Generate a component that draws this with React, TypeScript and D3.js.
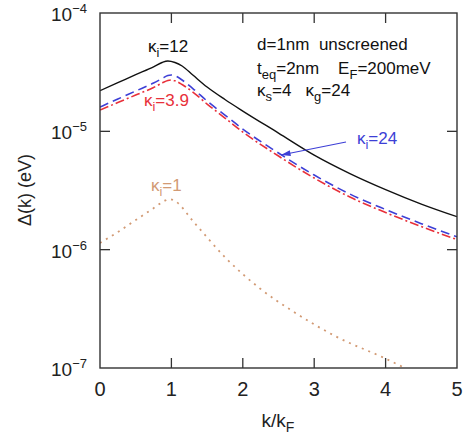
import React, { useRef, useEffect } from 'react';
import * as d3 from 'd3';

// k/kF sample points
const kBlack = [0, 0.25, 0.5, 0.75, 0.87, 0.95, 1.05, 1.15, 1.3, 1.5, 1.75, 2.0, 2.5, 3.0, 3.5, 4.0, 4.5, 5.0];
const dBlack = [2.204e-5, 2.575e-5, 3.015e-5, 3.509e-5, 3.816e-5, 3.929e-5, 3.816e-5, 3.565e-5, 2.99e-5, 2.368e-5, 1.857e-5, 1.484e-5, 9.67e-6, 6.3e-6, 4.4e-6, 3.22e-6, 2.43e-6, 1.9e-6];

const kBlue = [0, 0.25, 0.5, 0.75, 0.87, 0.95, 1.0, 1.05, 1.15, 1.3, 1.5, 1.75, 2.0, 2.5, 3.0, 3.5, 4.0, 4.5, 5.0];
const dBlue = [1.605e-5, 1.875e-5, 2.191e-5, 2.56e-5, 2.794e-5, 2.962e-5, 2.991e-5, 2.944e-5, 2.714e-5, 2.3e-5, 1.803e-5, 1.373e-5, 1.046e-5, 6.556e-6, 4.271e-6, 2.951e-6, 2.183e-6, 1.659e-6, 1.283e-6];

const kRed = [0, 0.25, 0.5, 0.75, 0.87, 0.95, 1.0, 1.05, 1.15, 1.3, 1.5, 1.75, 2.0, 2.5, 3.0, 3.5, 4.0, 4.5, 5.0];
const dRed = [1.514e-5, 1.751e-5, 2.026e-5, 2.345e-5, 2.56e-5, 2.688e-5, 2.714e-5, 2.673e-5, 2.486e-5, 2.149e-5, 1.701e-5, 1.296e-5, 9.865e-6, 6.183e-6, 4.028e-6, 2.784e-6, 2.059e-6, 1.568e-6, 1.217e-6];

const kBrown = [0, 0.25, 0.5, 0.75, 0.9, 0.97, 1.05, 1.31, 1.77, 2.24, 2.71, 3.31, 4.0, 4.24, 4.5];
const dBrown = [1.14e-6, 1.41e-6, 1.78e-6, 2.24e-6, 2.58e-6, 2.68e-6, 2.58e-6, 1.72e-6, 8.4e-7, 4.7e-7, 2.99e-7, 1.84e-7, 1.2e-7, 1.02e-7, 8.5e-8];

const xTicks = [0, 1, 2, 3, 4, 5];
const yTicks = [1e-7, 1e-6, 1e-5, 1e-4];
const yExp = ['\u22127', '\u22126', '\u22125', '\u22124'];

const App = () => {
  const ref = useRef<SVGSVGElement>(null);

  useEffect(() => {
    const svg = d3.select(ref.current);
    svg.selectAll('*').remove();

    const left = 100, right = 457, top = 13, bottom = 368;
    const x = d3.scaleLinear().domain([0, 5]).range([left, right]);
    const y = d3.scaleLog().domain([1e-7, 1e-4]).range([bottom, top]);
    const font = 'Liberation Sans, Arial, sans-serif';

    svg.append('defs').append('clipPath').attr('id', 'plotclip')
      .append('rect').attr('x', left).attr('y', top).attr('width', right - left).attr('height', bottom - top);

    const line = d3.line<[number, number]>()
      .x((d) => x(d[0]))
      .y((d) => y(d[1]))
      .curve(d3.curveMonotoneX);

    const series = [
      { k: kBrown, v: dBrown, color: '#d29a74', dash: '2,5', w: 1.8 },
      { k: kRed, v: dRed, color: '#e8303a', dash: '9,3,2,3', w: 1.6 },
      { k: kBlue, v: dBlue, color: '#3d3fd6', dash: '9,5', w: 1.6 },
      { k: kBlack, v: dBlack, color: '#111111', dash: null, w: 1.4 },
    ];

    const g = svg.append('g').attr('clip-path', 'url(#plotclip)');
    series.forEach((s) => {
      g.append('path')
        .datum(s.k.map((k, i) => [k, s.v[i]] as [number, number]))
        .attr('d', line)
        .attr('fill', 'none')
        .attr('stroke', s.color)
        .attr('stroke-width', s.w)
        .attr('stroke-dasharray', s.dash);
    });

    // frame
    svg.append('rect')
      .attr('x', left).attr('y', top)
      .attr('width', right - left).attr('height', bottom - top)
      .attr('fill', 'none').attr('stroke', '#333').attr('stroke-width', 1.4);

    // ticks inward
    const tl = 10;
    xTicks.slice(1, -1).forEach((t) => {
      svg.append('line').attr('x1', x(t)).attr('x2', x(t)).attr('y1', bottom).attr('y2', bottom - tl).attr('stroke', '#333').attr('stroke-width', 1.3);
      svg.append('line').attr('x1', x(t)).attr('x2', x(t)).attr('y1', top).attr('y2', top + tl).attr('stroke', '#333').attr('stroke-width', 1.3);
    });
    yTicks.slice(1, -1).forEach((t) => {
      svg.append('line').attr('x1', left).attr('x2', left + tl).attr('y1', y(t)).attr('y2', y(t)).attr('stroke', '#333').attr('stroke-width', 1.3);
      svg.append('line').attr('x1', right).attr('x2', right - tl).attr('y1', y(t)).attr('y2', y(t)).attr('stroke', '#333').attr('stroke-width', 1.3);
    });

    // tick labels
    xTicks.forEach((t) => {
      svg.append('text').attr('x', x(t)).attr('y', bottom + 28)
        .attr('text-anchor', 'middle').attr('font-family', font).attr('font-size', 20).attr('fill', '#222')
        .text(t);
    });
    yTicks.forEach((t, i) => {
      const tx = svg.append('text').attr('x', 51).attr('y', y(t) + 8)
        .attr('font-family', font).attr('font-size', 19).attr('fill', '#222');
      tx.append('tspan').text('10');
      tx.append('tspan').attr('dy', -8).attr('font-size', 13).text(yExp[i]);
    });

    // axis titles
    const xl = svg.append('text').attr('x', 278).attr('y', 427).attr('text-anchor', 'middle')
      .attr('font-family', font).attr('font-size', 19).attr('fill', '#222');
    xl.append('tspan').text('k/k');
    xl.append('tspan').attr('dy', 5).attr('font-size', 14).text('F');

    svg.append('text').attr('transform', 'translate(31,190) rotate(-90)').attr('text-anchor', 'middle')
      .attr('font-family', font).attr('font-size', 18).attr('fill', '#222')
      .text('\u0394(k) (eV)');

    // annotations
    const sub = (xx: number, yy: number, main: string, s: string, rest: string, color: string, size = 17) => {
      const t = svg.append('text').attr('x', xx).attr('y', yy)
        .attr('font-family', font).attr('font-size', size).attr('fill', color);
      t.append('tspan').text(main);
      t.append('tspan').attr('dy', 5).attr('font-size', size * 0.75).text(s);
      t.append('tspan').attr('dy', -5).text(rest);
      return t;
    };

    sub(148, 52, '\u03ba', 'i', '=12', '#111');
    sub(144, 106, '\u03ba', 'i', '=3.9', '#e8303a');
    sub(357, 144, '\u03ba', 'i', '=24', '#3d3fd6');
    sub(151, 191, '\u03ba', 'i', '=1', '#d29a74');

    svg.append('text').attr('x', 257).attr('y', 50)
      .attr('font-family', font).attr('font-size', 17).attr('fill', '#111')
      .style('white-space', 'pre')
      .text('d=1nm  unscreened');

    const l2 = svg.append('text').attr('x', 257).attr('y', 74)
      .attr('font-family', font).attr('font-size', 17).attr('fill', '#111').style('white-space', 'pre');
    l2.append('tspan').text('t');
    l2.append('tspan').attr('dy', 5).attr('font-size', 13).text('eq');
    l2.append('tspan').attr('dy', -5).text('=2nm    E');
    l2.append('tspan').attr('dy', 5).attr('font-size', 13).text('F');
    l2.append('tspan').attr('dy', -5).text('=200meV');

    const l3 = svg.append('text').attr('x', 257).attr('y', 96)
      .attr('font-family', font).attr('font-size', 17).attr('fill', '#111').style('white-space', 'pre');
    l3.append('tspan').text('\u03ba');
    l3.append('tspan').attr('dy', 5).attr('font-size', 13).text('s');
    l3.append('tspan').attr('dy', -5).text('=4   \u03ba');
    l3.append('tspan').attr('dy', 5).attr('font-size', 13).text('g');
    l3.append('tspan').attr('dy', -5).text('=24');

    // arrow to blue curve
    const ax1 = 346, ay1 = 142, ax2 = 281, ay2 = 155;
    svg.append('line').attr('x1', ax1).attr('y1', ay1).attr('x2', ax2).attr('y2', ay2)
      .attr('stroke', '#3d3fd6').attr('stroke-width', 1.1);
    const ang = Math.atan2(ay1 - ay2, ax1 - ax2);
    const hl = 10, hw = 0.3;
    const p1 = [ax2 + hl * Math.cos(ang + hw), ay2 + hl * Math.sin(ang + hw)];
    const p2 = [ax2 + hl * Math.cos(ang - hw), ay2 + hl * Math.sin(ang - hw)];
    svg.append('path')
      .attr('d', `M${ax2},${ay2}L${p1[0]},${p1[1]}L${p2[0]},${p2[1]}Z`)
      .attr('fill', '#3d3fd6');
  }, []);

  return (
    <svg ref={ref} width={466} height={438}
      style={{ position: 'absolute', left: 0, top: 0, background: '#fff' }} />
  );
};

export default App;
